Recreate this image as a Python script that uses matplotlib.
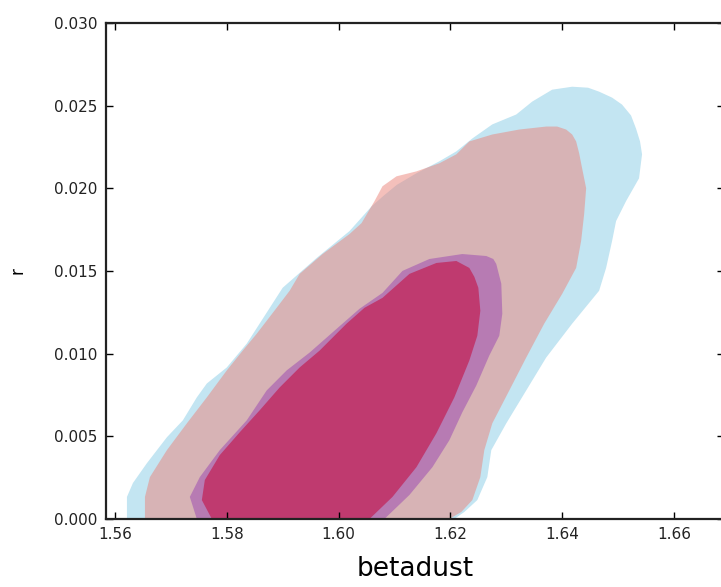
import numpy as np
import matplotlib
matplotlib.use("Agg")
import matplotlib.pyplot as plt

# =============================================
# CONTOUR OUTLINES (betadust, r)
# =============================================
# blue run, 95% region
blue_outer_x = [1.56214, 1.56214, 1.56321, 1.56571, 1.56929, 1.57214, 1.57464, 1.57643,
                1.58000, 1.58357, 1.59000, 1.59607, 1.60196, 1.60590, 1.60790, 1.61040,
                1.61390, 1.61804, 1.62107, 1.62393, 1.62750, 1.63179, 1.63464, 1.63821,
                1.64179, 1.64464, 1.64661, 1.64893, 1.65071, 1.65232, 1.65321, 1.65393,
                1.65429, 1.65375, 1.65143, 1.64964, 1.64893, 1.64786, 1.64661, 1.64179,
                1.63714, 1.63357, 1.63000, 1.62732, 1.62661, 1.62482, 1.62250, 1.62071]
blue_outer_y = [0.0, 0.00133, 0.00217, 0.00337, 0.00494, 0.00596, 0.00735, 0.00819,
                0.00916, 0.01060, 0.01398, 0.01578, 0.01741, 0.01890, 0.01950, 0.02020,
                0.02090, 0.02163, 0.02223, 0.02301, 0.02386, 0.02446, 0.02524, 0.02596,
                0.02614, 0.02608, 0.02584, 0.02548, 0.02506, 0.02440, 0.02361, 0.02283,
                0.02205, 0.02060, 0.01922, 0.01801, 0.01681, 0.01518, 0.01380, 0.01181,
                0.00976, 0.00777, 0.00578, 0.00416, 0.00253, 0.00114, 0.00042, 0.0]

# red run, 95% region
red_outer_x = [1.56536, 1.56536, 1.56625, 1.56929, 1.57286, 1.57643, 1.58000, 1.58286,
               1.58536, 1.58893, 1.59125, 1.59304, 1.59714, 1.60196, 1.60411, 1.60643,
               1.60786, 1.61036, 1.61393, 1.61804, 1.62107, 1.62339, 1.62750, 1.63232,
               1.63714, 1.63911, 1.64071, 1.64179, 1.64250, 1.64304, 1.64357, 1.64429,
               1.64393, 1.64339, 1.64250, 1.64000, 1.63679, 1.63357, 1.63054, 1.62750,
               1.62607, 1.62536, 1.62393, 1.62196, 1.61982]
red_outer_y = [0.0, 0.00133, 0.00253, 0.00416, 0.00578, 0.00735, 0.00898, 0.01018,
               0.01120, 0.01277, 0.01380, 0.01482, 0.01602, 0.01723, 0.01789, 0.01922,
               0.02012, 0.02072, 0.02102, 0.02151, 0.02205, 0.02283, 0.02325, 0.02355,
               0.02373, 0.02373, 0.02355, 0.02325, 0.02283, 0.02211, 0.02120, 0.02000,
               0.01843, 0.01681, 0.01518, 0.01361, 0.01181, 0.00976, 0.00777, 0.00578,
               0.00416, 0.00253, 0.00114, 0.00042, 0.0]

# blue run, 68% region
blue_inner_x = [1.57464, 1.57339, 1.57518, 1.57875, 1.58357, 1.58714, 1.59071, 1.59482,
                1.59929, 1.60375, 1.60786, 1.61143, 1.61625, 1.62214, 1.62643, 1.62768,
                1.62821, 1.62911, 1.62929, 1.62875, 1.62696, 1.62464, 1.62214, 1.61982,
                1.61679, 1.61268, 1.60821]
blue_inner_y = [0.0, 0.00133, 0.00253, 0.00416, 0.00596, 0.00777, 0.00898, 0.01006,
                0.01139, 0.01271, 0.01367, 0.01500, 0.01572, 0.01602, 0.01590, 0.01572,
                0.01542, 0.01422, 0.01241, 0.01108, 0.00988, 0.00807, 0.00645, 0.00476,
                0.00313, 0.00145, 0.0]

# red run, 68% region
red_inner_x = [1.57732, 1.57554, 1.57607, 1.57875, 1.58232, 1.58589, 1.58946, 1.59304,
               1.59661, 1.60143, 1.60464, 1.60786, 1.61268, 1.61750, 1.62107, 1.62339,
               1.62429, 1.62500, 1.62536, 1.62482, 1.62339, 1.62071, 1.61750, 1.61393,
               1.60964, 1.60554]
red_inner_y = [0.0, 0.00114, 0.00235, 0.00386, 0.00524, 0.00657, 0.00795, 0.00916,
               0.01018, 0.01181, 0.01277, 0.01337, 0.01482, 0.01548, 0.01560, 0.01518,
               0.01464, 0.01398, 0.01259, 0.01108, 0.00958, 0.00735, 0.00518, 0.00313,
               0.00133, 0.0]

x_ticks = [1.56, 1.58, 1.60, 1.62, 1.64, 1.66]
y_ticks = [0.000, 0.005, 0.010, 0.015, 0.020, 0.025, 0.030]

# =============================================
# PLOT
# =============================================
fig = plt.figure(figsize=(7.21, 5.87), dpi=100)
ax = fig.add_axes([0.147, 0.116, 0.857, 0.845])

ax.fill(blue_outer_x, blue_outer_y, color='#C3E5F2', lw=0)
ax.fill(red_outer_x, red_outer_y, color='#EB8279', alpha=0.5, lw=0)
ax.fill(blue_inner_x, blue_inner_y, color='#B77BB3', lw=0)
ax.fill(red_inner_x, red_inner_y, color='#BF3A6F', lw=0)

ax.set_xlim(1.55839, 1.66893)
ax.set_ylim(0, 0.030)
ax.set_xticks(x_ticks)
ax.set_yticks(y_ticks)
ax.set_xticklabels([f'{v:.2f}' for v in x_ticks])
ax.set_yticklabels([f'{v:.3f}' for v in y_ticks])
ax.tick_params(direction='in', top=True, right=True, length=5, width=1,
               labelsize=11, pad=6, labelcolor='#222222')
for s in ax.spines.values():
    s.set_linewidth(1.6)
    s.set_color('#222222')

ax.set_xlabel('betadust', fontsize=19, labelpad=10)
ax.set_ylabel('r', fontsize=12, labelpad=20)

fig.savefig('out.png', dpi=100)
